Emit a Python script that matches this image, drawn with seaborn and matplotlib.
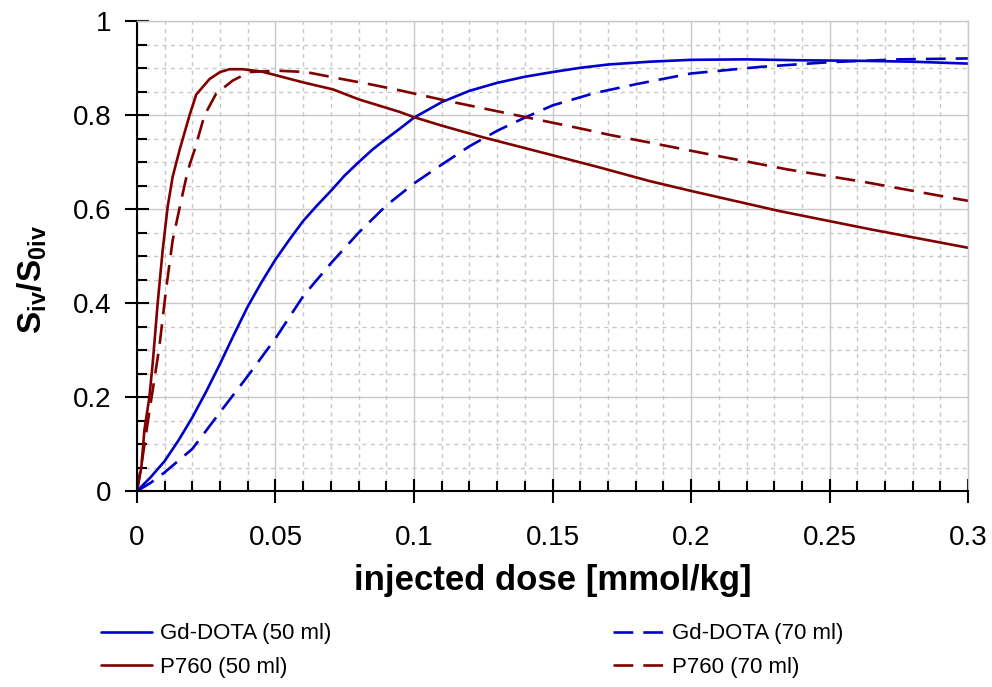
import pandas as pd
import seaborn as sns
import matplotlib.pyplot as plt
from matplotlib.ticker import FixedLocator, MultipleLocator

# Curves: injected dose [mmol/kg] vs S_iv/S_0iv
gd50_x = [0, 0.005, 0.01, 0.015, 0.02, 0.025, 0.03, 0.035, 0.04, 0.045, 0.05,
          0.055, 0.06, 0.065, 0.07, 0.075, 0.08, 0.085, 0.09, 0.095, 0.1,
          0.11, 0.12, 0.13, 0.14, 0.15, 0.16, 0.17, 0.185, 0.2, 0.22, 0.24,
          0.26, 0.28, 0.3]
gd50_y = [0, 0.03, 0.064, 0.108, 0.157, 0.212, 0.271, 0.333, 0.393, 0.445, 0.493,
          0.535, 0.575, 0.608, 0.639, 0.672, 0.70, 0.727, 0.75, 0.772, 0.795,
          0.828, 0.852, 0.869, 0.882, 0.892, 0.901, 0.908, 0.914, 0.918, 0.919, 0.917,
          0.916, 0.914, 0.91]

gd70_x = [0, 0.005, 0.01, 0.02, 0.03, 0.04, 0.05, 0.06, 0.07, 0.08, 0.09, 0.1,
          0.11, 0.12, 0.13, 0.14, 0.15, 0.165, 0.18, 0.2, 0.225, 0.25, 0.275, 0.3]
gd70_y = [0, 0.018, 0.04, 0.09, 0.168, 0.245, 0.325, 0.415, 0.485, 0.55, 0.608, 0.655,
          0.695, 0.734, 0.767, 0.795, 0.821, 0.847, 0.866, 0.889, 0.903, 0.913, 0.919, 0.921]

p50_x = [0, 0.0016, 0.0027, 0.0045, 0.0057, 0.0075, 0.0093, 0.0111, 0.0129, 0.0154,
         0.019, 0.0214, 0.0262, 0.03, 0.0334, 0.0382, 0.045, 0.0503, 0.06, 0.0708,
         0.08, 0.0949, 0.1, 0.11, 0.125, 0.15, 0.167, 0.185, 0.2, 0.232, 0.265, 0.3]
p50_y = [0, 0.05, 0.13, 0.2, 0.272, 0.40, 0.513, 0.605, 0.669, 0.726,
         0.80, 0.844, 0.877, 0.892, 0.898, 0.898, 0.893, 0.885, 0.87, 0.855,
         0.834, 0.807, 0.796, 0.778, 0.753, 0.715, 0.689, 0.66, 0.639, 0.596, 0.557, 0.518]

p70_x = [0, 0.002, 0.004, 0.0057, 0.0081, 0.0105, 0.0129, 0.016, 0.0184, 0.0208,
         0.0244, 0.0286, 0.0346, 0.0407, 0.0503, 0.0611, 0.0732, 0.085, 0.0949,
         0.1117, 0.1346, 0.16, 0.1708, 0.185, 0.203, 0.2346, 0.2635, 0.296, 0.3]
p70_y = [0, 0.07, 0.15, 0.215, 0.307, 0.428, 0.534, 0.619, 0.683, 0.726,
         0.80, 0.846, 0.874, 0.892, 0.895, 0.892, 0.878, 0.865, 0.853,
         0.831, 0.803, 0.772, 0.758, 0.742, 0.721, 0.685, 0.657, 0.622, 0.618]

series_names = ['Gd-DOTA (50 ml)', 'P760 (50 ml)', 'Gd-DOTA (70 ml)', 'P760 (70 ml)']
x_ticks = [0, 0.05, 0.1, 0.15, 0.2, 0.25, 0.3]
x_ticklabels = ['0', '0.05', '0.1', '0.15', '0.2', '0.25', '0.3']
y_ticks = [0, 0.2, 0.4, 0.6, 0.8, 1]
y_ticklabels = ['0', '0.2', '0.4', '0.6', '0.8', '1']

sns.set_theme(style='ticks')
plt.rcParams['font.family'] = ['Liberation Sans', 'DejaVu Sans']
plt.rcParams['text.color'] = 'black'
plt.rcParams['mathtext.fontset'] = 'custom'
plt.rcParams['mathtext.rm'] = 'Liberation Sans'
plt.rcParams['mathtext.it'] = 'Liberation Sans:italic'
plt.rcParams['mathtext.bf'] = 'Liberation Sans:bold'

# long table for seaborn
frames = []
all_x = [gd50_x, p50_x, gd70_x, p70_x]
all_y = [gd50_y, p50_y, gd70_y, p70_y]
for name, xs, ys in zip(series_names, all_x, all_y):
    frames.append(pd.DataFrame({'dose': xs, 'ratio': ys, 'series': name}))
df = pd.concat(frames, ignore_index=True)

blue = '#0000cc'
brown = '#800000'
palette = {'Gd-DOTA (50 ml)': blue, 'P760 (50 ml)': brown,
           'Gd-DOTA (70 ml)': blue, 'P760 (70 ml)': brown}
dashes = {'Gd-DOTA (50 ml)': '', 'P760 (50 ml)': '',
          'Gd-DOTA (70 ml)': (7.5, 3.8), 'P760 (70 ml)': (7.5, 3.8)}

fig = plt.figure(figsize=(9.92, 6.87), dpi=100)
ax = fig.add_axes([0.138, 0.285, 0.838, 0.684])

sns.lineplot(data=df, x='dose', y='ratio', hue='series', style='series',
             hue_order=series_names, style_order=series_names,
             palette=palette, dashes=dashes, estimator=None, sort=False,
             linewidth=1.9, ax=ax)

ax.set_xlim(0, 0.3)
ax.set_ylim(0, 1)
ax.xaxis.set_major_locator(FixedLocator(x_ticks))
ax.set_xticklabels(x_ticklabels)
ax.yaxis.set_major_locator(FixedLocator(y_ticks))
ax.set_yticklabels(y_ticklabels)
ax.xaxis.set_minor_locator(MultipleLocator(0.01))
ax.yaxis.set_minor_locator(MultipleLocator(0.05))

ax.set_axisbelow(True)
ax.grid(which='major', color='#c8c8c8', lw=1, ls='-')
ax.grid(which='minor', color='#c8c8c8', lw=1, ls=(0, (3, 3)))

ax.tick_params(which='major', direction='inout', length=17, width=1.5,
               color='black', labelsize=20, labelcolor='black')
ax.tick_params(axis='y', which='major', pad=10)
ax.tick_params(axis='x', which='major', pad=16)
ax.tick_params(which='minor', direction='in', length=7.5, width=1.5, color='black')

for side in ['left', 'bottom']:
    ax.spines[side].set_color('black')
    ax.spines[side].set_linewidth(1.5)
for side in ['top', 'right']:
    ax.spines[side].set_color('#c8c8c8')
    ax.spines[side].set_linewidth(1)

ax.set_xlabel('injected dose [mmol/kg]', fontsize=25, fontweight='bold', color='black')
ax.xaxis.set_label_coords(0.5, -0.155)
ax.set_ylabel(r'$\mathbf{S_{iv}/S_{0iv}}$', fontsize=24, color='black')
ax.yaxis.set_label_coords(-0.106, 0.45)

sns.move_legend(ax, 'center', bbox_to_anchor=(0.476, 0.053),
                bbox_transform=fig.transFigure, ncol=2, frameon=False,
                title=None, fontsize=16, handlelength=2.3, handletextpad=0.35,
                columnspacing=12.7, labelspacing=0.55, borderpad=0)
for text in ax.get_legend().get_texts():
    text.set_color('black')

fig.savefig('out.png', dpi=100)
